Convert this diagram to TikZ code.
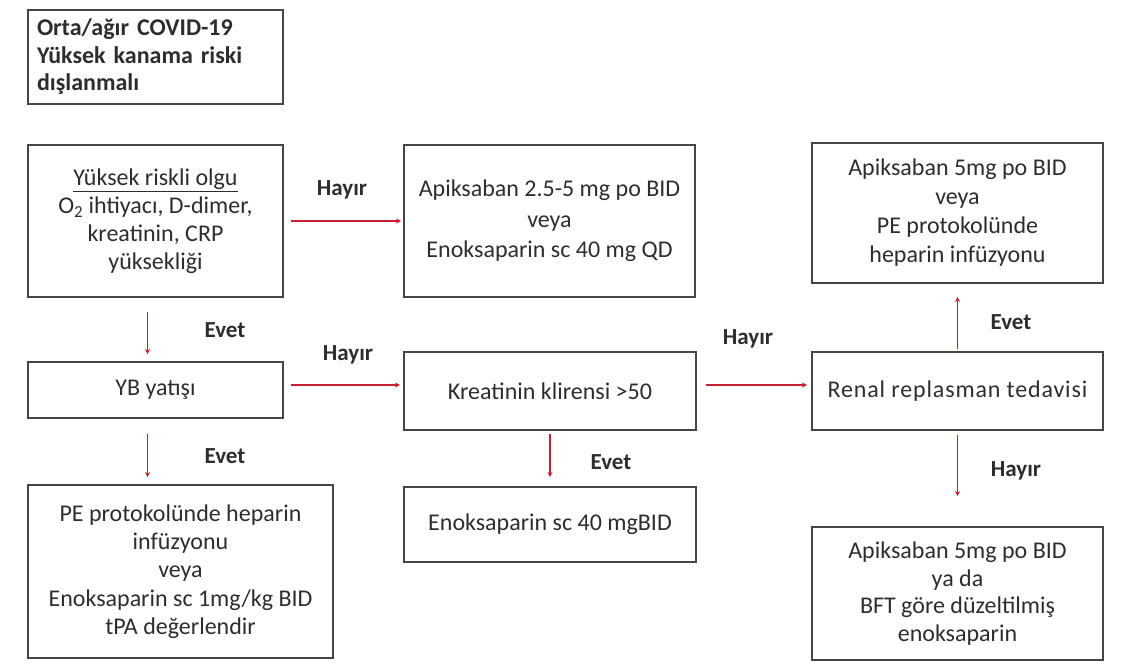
\documentclass[tikz,border=0pt]{standalone}
\usepackage{fontspec}
\setmainfont{Carlito}
\usetikzlibrary{arrows.meta}
\definecolor{boxline}{RGB}{70,70,70}
\definecolor{txt}{RGB}{45,45,45}
\definecolor{arrred}{RGB}{200,30,50}
\tikzset{
  box/.style={draw=boxline, line width=2pt, rectangle, align=center, text=txt,
    font=\fontsize{24}{29}\selectfont, inner sep=0pt},
  arr/.style={draw=arrred, line width=1.3pt, -{Stealth[length=5pt,width=5pt]}},
  lbl/.style={text=txt, font=\fontsize{23}{26}\selectfont\bfseries, inner sep=0pt}
}
\begin{document}
\begin{tikzpicture}[x=1pt,y=-1pt]
\useasboundingbox (0,0) rectangle (1125,664);
\node[box, minimum width=255pt, minimum height=94pt, text width=237pt, align=left,
  font=\fontsize{24}{27.5}\selectfont\bfseries] (title) at (155.5,57)
  {Orta/ağır COVID-19\\Yüksek kanama riski\\dışlanmalı};
\node[box, minimum width=255pt, minimum height=152pt, font=\fontsize{24}{28}\selectfont] (yuk) at (155.5,221)
  {\underline{Yüksek riskli olgu}\\O\textsubscript{2} ihtiyacı, D-dimer,\\kreatinin, CRP\\yüksekliği};
\node[box, minimum width=291pt, minimum height=152pt, font=\fontsize{24}{30.5}\selectfont] (api1) at (549.5,221)
  {Apiksaban 2.5-5 mg po BID\\veya\\Enoksaparin sc 40 mg QD};
\node[box, minimum width=291pt, minimum height=140pt] (tr) at (957.5,213)
  {Apiksaban 5mg po BID\\veya\\PE protokolünde\\heparin infüzyonu};
\node[box, minimum width=255pt, minimum height=56pt] (yb) at (155.5,390)
  {YB yatışı};
\node[box, minimum width=292pt, minimum height=78pt] (kre) at (550,391)
  {Kreatinin klirensi >50};
\node[box, minimum width=291pt, minimum height=78pt,
  font=\fontsize{24}{29}\selectfont\addfontfeature{LetterSpace=3.5}] (ren) at (957.5,391)
  {Renal replasman tedavisi};
\node[box, minimum width=305pt, minimum height=173pt, font=\fontsize{24}{28.3}\selectfont] (pe) at (180.5,571.5)
  {PE protokolünde heparin\\infüzyonu\\veya\\Enoksaparin sc 1mg/kg BID\\tPA değerlendir};
\node[box, minimum width=292pt, minimum height=75pt] (eno) at (550,524.5)
  {Enoksaparin sc 40 mgBID};
\node[box, minimum width=291pt, minimum height=133pt, font=\fontsize{24}{27.5}\selectfont] (br) at (957.5,593.5)
  {Apiksaban 5mg po BID\\ya da\\BFT göre düzeltilmiş\\enoksaparin};
% arrows
\draw[arr] ([xshift=7pt]yuk.east) -- ([xshift=-2pt]api1.west);
\node[lbl] at (342,190) {Hayır};
\draw[arr] ([xshift=-8pt,yshift=-14pt]yuk.south) -- ([xshift=-8pt,yshift=7pt]yb.north);
\node[lbl] at (225,330) {Evet};
\draw[arr] ([xshift=7pt,yshift=5pt]yb.east) -- ([xshift=-3pt,yshift=6pt]kre.west);
\node[lbl] at (348,355) {Hayır};
\draw[arr] ([xshift=-8pt,yshift=-15pt]yb.south) -- ([xshift=-33pt,yshift=7pt]pe.north);
\node[lbl] at (225,456) {Evet};
\draw[arr] ([yshift=-3pt]kre.south) -- ([yshift=9pt]eno.north);
\node[lbl] at (611,462) {Evet};
\draw[arr] ([xshift=9pt,yshift=6pt]kre.east) -- ([xshift=-4pt,yshift=6pt]ren.west);
\node[lbl] at (748,339) {Hayır};
\draw[arr] ([yshift=2pt]ren.north) -- ([yshift=-13pt]tr.south);
\node[lbl] at (1011,322) {Evet};
\draw[arr] ([yshift=-4pt]ren.south) -- ([yshift=30pt]br.north);
\node[lbl] at (1016,471) {Hayır};
\end{tikzpicture}
\end{document}
